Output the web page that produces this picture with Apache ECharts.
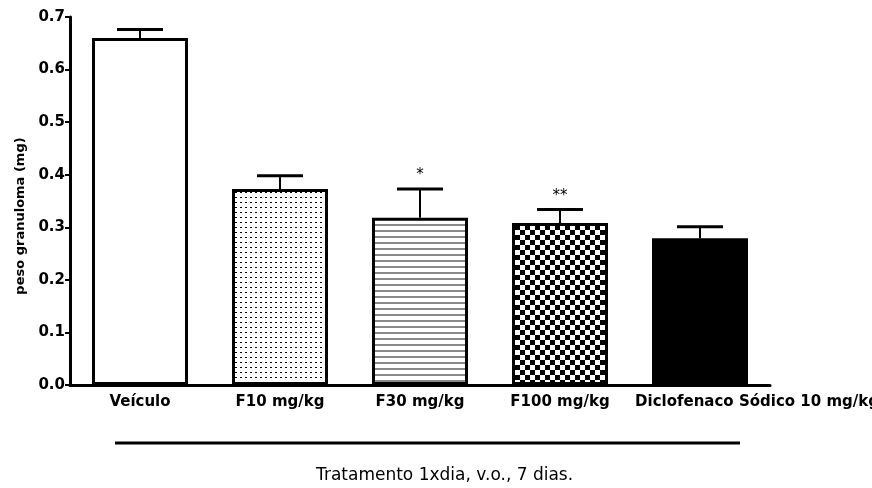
<!DOCTYPE html>
<html>
<head>
<meta charset="utf-8">
<script src="https://cdn.jsdelivr.net/npm/echarts@6/dist/echarts.min.js"></script>
<style>html,body{margin:0;padding:0;background:#fff;}#c{width:872px;height:488px;}</style>
</head>
<body>
<div id="c"></div>
<script>
const categories = ['Veículo', 'F10 mg/kg', 'F30 mg/kg', 'F100 mg/kg', 'Diclofenaco Sódico 10 mg/kg'];
const means = [0.66, 0.373, 0.318, 0.308, 0.279];
const sem = [0.016, 0.025, 0.055, 0.026, 0.022];
const signif = ['', '', '*', '**', ''];

function makeTile(w, h, draw) {
  const c = document.createElement('canvas');
  c.width = w; c.height = h;
  const ctx = c.getContext('2d');
  ctx.fillStyle = '#fff';
  ctx.fillRect(0, 0, w, h);
  draw(ctx);
  return { image: c, repeat: 'repeat' };
}
const fills = [
  '#ffffff',
  makeTile(5, 5, ctx => { ctx.fillStyle = '#000'; ctx.fillRect(0, 2, 2, 1); }),
  makeTile(6, 6, ctx => { ctx.fillStyle = '#8a8a8a'; ctx.fillRect(0, 2, 6, 2); }),
  makeTile(10, 10, ctx => { ctx.fillStyle = '#000'; ctx.fillRect(0, 0, 5, 5); ctx.fillRect(5, 5, 5, 5); }),
  '#000000'
];

const chart = echarts.init(document.getElementById('c'), null, { renderer: 'canvas' });
const font = '"DejaVu Sans", "Liberation Sans", Arial, sans-serif';

chart.setOption({
  animation: false,
  backgroundColor: '#fff',
  grid: { left: 70, right: 102, top: 17, bottom: 103, containLabel: false, outerBoundsMode: 'none' },
  xAxis: {
    type: 'category',
    data: categories,
    axisLine: { lineStyle: { color: '#000', width: 3 } },
    axisTick: { alignWithLabel: true, length: 6, lineStyle: { color: '#000', width: 2 } },
    axisLabel: {
      interval: 0, color: '#000', fontFamily: font, fontWeight: 'bold', fontSize: 15, margin: 10,
      formatter: (v, i) => i === categories.length - 1 ? '{s|' + v + '}' : v,
      rich: { s: { padding: [0, 0, 0, 114], fontFamily: font, fontWeight: 'bold', fontSize: 15, color: '#000' } }
    }
  },
  yAxis: {
    type: 'value', min: 0, max: 0.7, interval: 0.1,
    name: 'peso granuloma (mg)', nameLocation: 'middle', nameGap: 42, nameRotate: 90,
    nameTextStyle: { fontFamily: font, fontWeight: 'bold', fontSize: 13, color: '#000', padding: [0, 30, 0, 0] },
    axisLine: { show: true, lineStyle: { color: '#000', width: 3 } },
    axisTick: { show: true, length: 5, lineStyle: { color: '#000', width: 2 } },
    axisLabel: { color: '#000', fontFamily: font, fontWeight: 'bold', fontSize: 15, margin: 5, formatter: v => v.toFixed(1) },
    splitLine: { show: false }
  },
  series: [
    {
      type: 'bar',
      barWidth: 96,
      data: means.map((m, i) => ({ value: m, itemStyle: { color: fills[i], borderColor: '#000', borderWidth: 3 } })),
      z: 2
    },
    {
      type: 'custom',
      z: 3,
      data: means.map((m, i) => [i, m, sem[i]]),
      renderItem: (params, api) => {
        const i = api.value(0);
        const m = api.value(1);
        const e = api.value(2);
        const base = api.coord([i, m]);
        const top = api.coord([i, m + e]);
        const hw = 23;
        const children = [
          { type: 'line', shape: { x1: base[0], y1: base[1], x2: top[0], y2: top[1] }, style: { stroke: '#000', lineWidth: 2 } },
          { type: 'line', shape: { x1: top[0] - hw, y1: top[1], x2: top[0] + hw, y2: top[1] }, style: { stroke: '#000', lineWidth: 3 } }
        ];
        const s = signif[i];
        if (s) {
          children.push({ type: 'text', style: { text: s, x: top[0], y: top[1] - 6, align: 'center', verticalAlign: 'bottom', font: '15px ' + font, fill: '#000' } });
        }
        return { type: 'group', children };
      }
    }
  ],
  graphic: [
    { type: 'line', shape: { x1: 115, y1: 443, x2: 740, y2: 443 }, style: { stroke: '#000', lineWidth: 3 } },
    { type: 'text', left: 316, top: 467, style: { text: 'Tratamento 1xdia, v.o., 7 dias.', font: '17px ' + font, fill: '#000' } }
  ]
});
</script>
</body>
</html>
